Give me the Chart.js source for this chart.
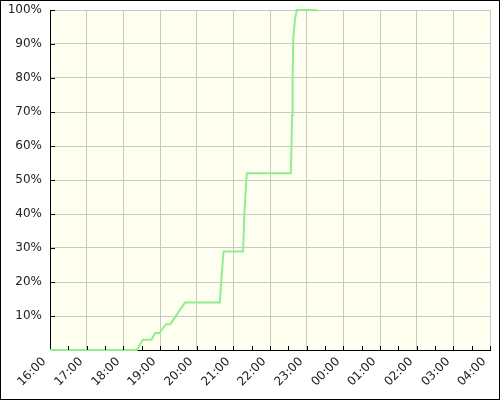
<!DOCTYPE html>
<html>
<head>
<meta charset="utf-8">
<script src="https://cdn.jsdelivr.net/npm/chart.js@4/dist/chart.umd.min.js"></script>
<style>
html,body{margin:0;padding:0;background:#fff;}
#wrap{position:relative;width:500px;height:400px;overflow:hidden;}
canvas{display:block;}
.xl{position:absolute;font:12px "DejaVu Sans",sans-serif;line-height:14px;height:14px;color:#222;white-space:nowrap;transform-origin:100% 50%;transform:rotate(-45deg);}
</style>
</head>
<body>
<div id="wrap"><canvas id="c" width="500" height="400"></canvas></div>
<script>
// Data
const times = ['16:00','18:22','18:32','18:46','18:52','18:59','19:10','19:17','19:41','20:38','20:40','20:44','21:16','21:18','21:22','22:34','22:35','22:36','22:37','22:38','22:41','22:44','23:17'];
const percents = [0,0,3,3,5,5,7.6,7.6,14,14,19.7,29,29,40,52,52,58,69,80,91.5,97.5,100,100];
const hourLabels = ['16:00','17:00','18:00','19:00','20:00','21:00','22:00','23:00','00:00','01:00','02:00','03:00','04:00'];
const yTickValues = [10,20,30,40,50,60,70,80,90,100];

function toMinutes(t){
  const [h,m] = t.split(':').map(Number);
  let hh = h < 16 ? h + 24 : h;
  return (hh - 16) * 60 + m;
}
const points = times.map((t,i)=>({x: toMinutes(t), y: percents[i]}));

const framePlugin = {
  id: 'frame',
  beforeDraw(chart){
    const {ctx, chartArea:a} = chart;
    ctx.save();
    ctx.fillStyle = '#ffffff';
    ctx.fillRect(0,0,chart.width,chart.height);
    ctx.fillStyle = '#fffff0';
    ctx.fillRect(a.left, a.top, a.right-a.left, a.bottom-a.top);
    ctx.restore();
  },
  afterDraw(chart){
    const {ctx} = chart;
    const xs = chart.scales.x, ys = chart.scales.y;
    ctx.save();
    ctx.strokeStyle = '#000';
    ctx.lineWidth = 1;
    ctx.beginPath();
    for (let m = 30; m <= 720; m += 30){
      const px = Math.round(xs.getPixelForValue(m)) + 0.5;
      ctx.moveTo(px, ys.bottom);
      ctx.lineTo(px, ys.bottom - 4);
    }
    yTickValues.forEach(v=>{
      const py = Math.round(ys.getPixelForValue(v)) + 0.5;
      ctx.moveTo(xs.left, py);
      ctx.lineTo(xs.left + 5, py);
    });
    ctx.stroke();
    ctx.strokeRect(0.5,0.5,chart.width-1,chart.height-1);
    ctx.restore();
  }
};

const chart = new Chart(document.getElementById('c'), {
  type: 'line',
  data: {
    datasets: [{
      data: points,
      borderColor: '#90ee90',
      borderWidth: 2,
      pointRadius: 0,
      fill: false,
      tension: 0,
      clip: false
    }]
  },
  options: {
    responsive: false,
    animation: false,
    devicePixelRatio: 1,
    layout: { padding: { top: 10, right: 10, left: 0, bottom: 0 } },
    plugins: { legend: { display: false }, tooltip: { enabled: false } },
    scales: {
      x: {
        type: 'linear',
        min: 0, max: 720,
        afterFit(s){ s.height = 50; s.paddingLeft = 0; s.paddingRight = 0; },
        ticks: { stepSize: 60, autoSkip: false, display: false },
        grid: { color: '#c8c8c8', lineWidth: 1, drawTicks: false },
        border: { display: true, color: '#000', width: 1 }
      },
      y: {
        min: 0, max: 100,
        afterFit(s){ s.width = 50; s.paddingTop = 0; s.paddingBottom = 0; },
        ticks: {
          stepSize: 10,
          padding: 8,
          color: '#222',
          font: { family: 'DejaVu Sans', size: 12 },
          callback: (v) => v === 0 ? '' : v + '%'
        },
        grid: { color: '#c8c8c8', lineWidth: 1, drawTicks: false },
        border: { display: true, color: '#000', width: 1 }
      }
    }
  },
  plugins: [framePlugin]
});

// Rotated x-axis hour labels positioned from the chart's own x scale
const wrap = document.getElementById('wrap');
const xs = chart.scales.x, ys = chart.scales.y;
hourLabels.forEach((lab, i) => {
  const px = xs.getPixelForValue(i * 60);
  const el = document.createElement('div');
  el.className = 'xl';
  el.textContent = lab;
  el.style.right = (500 - (px - 6)) + 'px';
  el.style.top = (ys.bottom + 9 - 7) + 'px';
  wrap.appendChild(el);
});
</script>
</body>
</html>
